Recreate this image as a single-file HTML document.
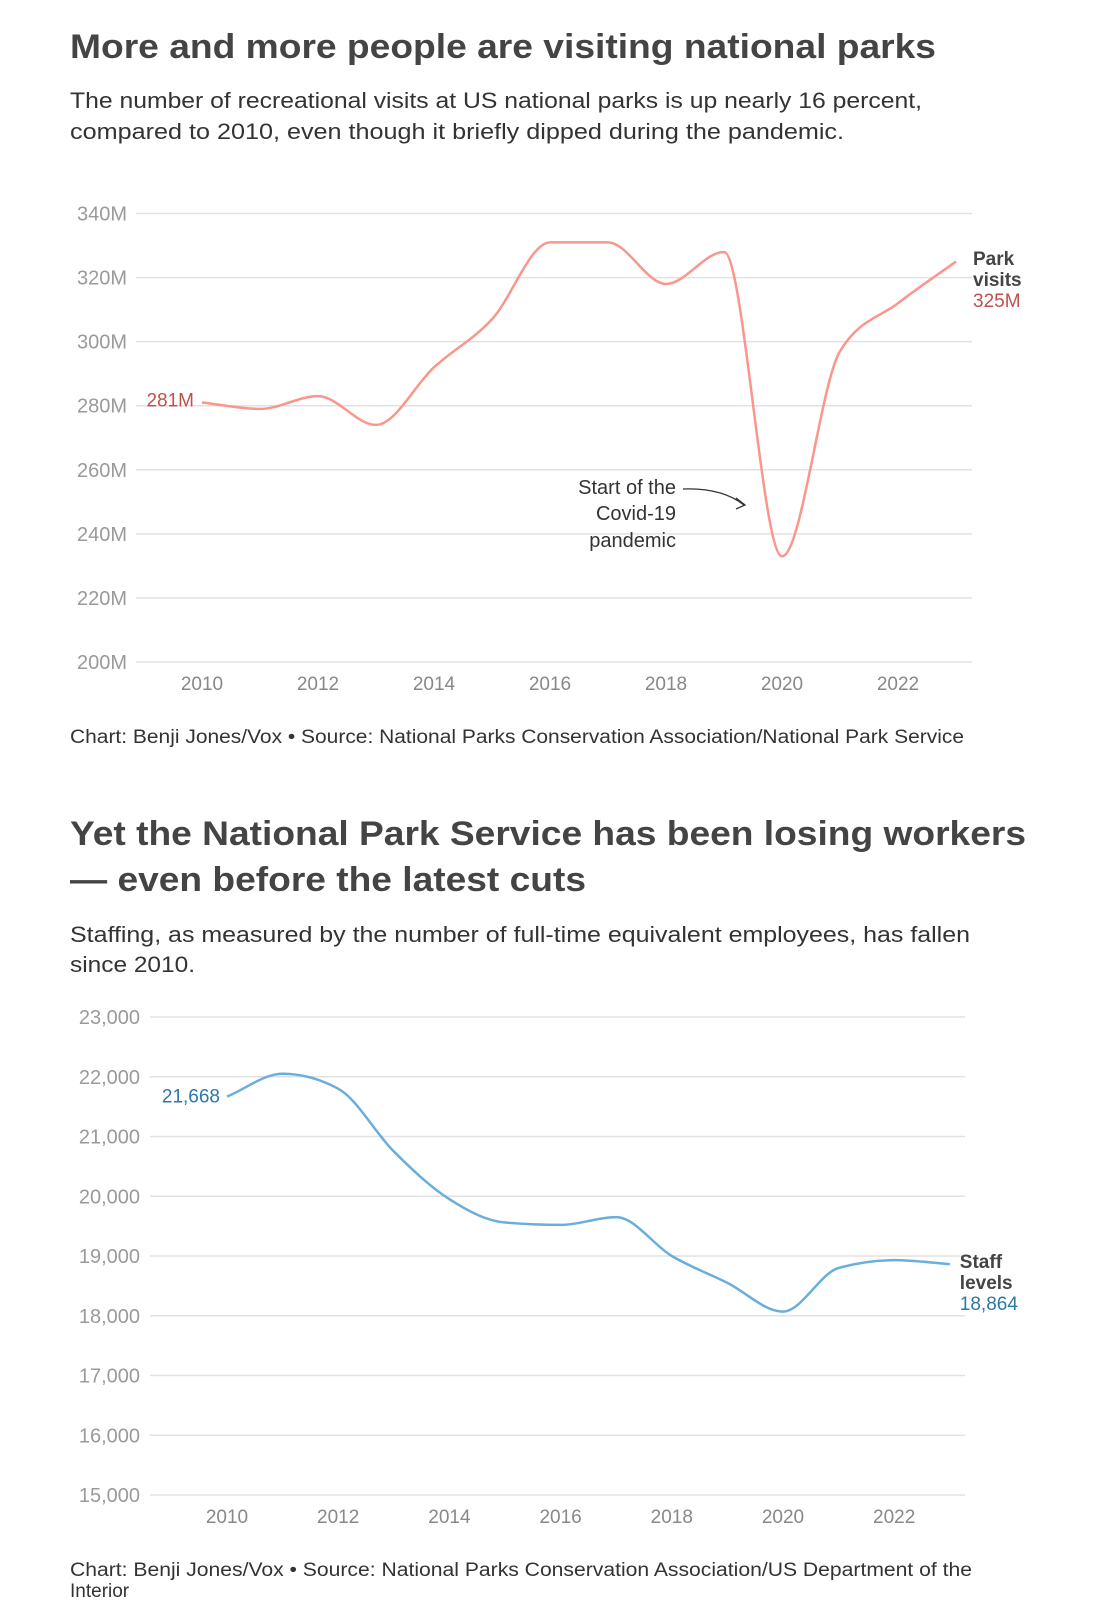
<!DOCTYPE html>
<html><head><meta charset="utf-8"><style>
body{margin:0;background:#fff;}
svg{display:block;font-family:"Liberation Sans",sans-serif;}
</style></head><body>
<svg id="root" width="1108" height="1612" viewBox="0 0 1108 1612">
<text x="70" y="58" font-size="34" font-weight="bold" fill="#444" textLength="866" lengthAdjust="spacingAndGlyphs">More and more people are visiting national parks</text>
<text x="70" y="108" font-size="22" fill="#333" textLength="852" lengthAdjust="spacingAndGlyphs">The number of recreational visits at US national parks is up nearly 16 percent,</text>
<text x="70" y="139" font-size="22" fill="#333" textLength="774" lengthAdjust="spacingAndGlyphs">compared to 2010, even though it briefly dipped during the pandemic.</text>
<g id="c1"></g>
<text x="70" y="743" font-size="19" fill="#333" textLength="894" lengthAdjust="spacingAndGlyphs">Chart: Benji Jones/Vox • Source: National Parks Conservation Association/National Park Service</text>

<text x="70" y="845" font-size="34" font-weight="bold" fill="#444" textLength="956" lengthAdjust="spacingAndGlyphs">Yet the National Park Service has been losing workers</text>
<text x="70" y="891" font-size="34" font-weight="bold" fill="#444" textLength="516" lengthAdjust="spacingAndGlyphs">— even before the latest cuts</text>
<text x="70" y="942" font-size="22" fill="#333" textLength="900" lengthAdjust="spacingAndGlyphs">Staffing, as measured by the number of full-time equivalent employees, has fallen</text>
<text x="70" y="972" font-size="22" fill="#333" textLength="125" lengthAdjust="spacingAndGlyphs">since 2010.</text>
<g id="c2"></g>
<text x="70" y="1576" font-size="19" fill="#333" textLength="902" lengthAdjust="spacingAndGlyphs">Chart: Benji Jones/Vox • Source: National Parks Conservation Association/US Department of the</text>
<text x="70" y="1597" font-size="19" fill="#333">Interior</text>
</svg>
<script>
const years = [2010,2011,2012,2013,2014,2015,2016,2017,2018,2019,2020,2021,2022,2023];
const visits = [281,279,283,274,292,307,331,331,318,328,233,297,312,325];
const visitTicks = [200,220,240,260,280,300,320,340];
const staff = [21668,22050,21800,20750,19950,19560,19520,19650,19000,18550,18070,18800,18930,18864];
const staffTicks = [15000,16000,17000,18000,19000,20000,21000,22000,23000];
const yearTicks = [2010,2012,2014,2016,2018,2020,2022];
const NS='http://www.w3.org/2000/svg';
function mk(parent,tag,attrs,txt){const e=document.createElementNS(NS,tag);for(const k in attrs)e.setAttribute(k,attrs[k]);if(txt!==undefined)e.textContent=txt;parent.appendChild(e);return e;}
function monotone(pts){
  const n=pts.length,dx=[],m=[],t=[];
  for(let i=0;i<n-1;i++){dx.push(pts[i+1][0]-pts[i][0]);m.push((pts[i+1][1]-pts[i][1])/dx[i]);}
  t[0]=m[0];t[n-1]=m[n-2];
  for(let i=1;i<n-1;i++){
    if(m[i-1]*m[i]<=0)t[i]=0;
    else{const h0=dx[i-1],h1=dx[i],p=(m[i-1]*h1+m[i]*h0)/(h0+h1);
      t[i]=(Math.sign(m[i-1])+Math.sign(m[i]))*Math.min(Math.abs(m[i-1]),Math.abs(m[i]),0.5*Math.abs(p));}
  }
  let d='M'+pts[0][0]+','+pts[0][1];
  for(let i=0;i<n-1;i++){const h=dx[i]/3;
    d+=' C'+(pts[i][0]+h)+','+(pts[i][1]+t[i]*h)+' '+(pts[i+1][0]-h)+','+(pts[i+1][1]-t[i+1]*h)+' '+pts[i+1][0]+','+pts[i+1][1];}
  return d;
}
function chart(g,cfg){
  const x=v=>cfg.x0+(v-2010)*cfg.xs;
  const y=v=>cfg.y0+(v-cfg.vmin)/(cfg.vmax-cfg.vmin)*(cfg.y1-cfg.y0);
  cfg.ticks.forEach(v=>{
    const l=mk(g,'line',{x1:cfg.gx0,x2:cfg.gx1,y1:y(v),y2:y(v),stroke:'#e2e2e2','stroke-width':1.5});
    
    
    const t=mk(g,'text',{x:cfg.lx,y:y(v)+7,'text-anchor':'end','font-size':20,fill:'#9a9a9a'},cfg.fmt(v));
    
    
  });
  yearTicks.forEach(v=>{
    const t=mk(g,'text',{x:x(v),y:cfg.xly,'text-anchor':'middle','font-size':19,fill:'#888'},String(v));
    
    
  });
  const pts=years.map((yr,i)=>[x(yr),y(cfg.vals[i])]);
  const p=mk(g,'path',{d:monotone(pts),fill:'none',stroke:cfg.color,'stroke-width':2.5});
  
  
  return {x,y};
}
const g1=document.getElementById('c1');
const a1=chart(g1,{x0:202,xs:58,y0:662,y1:213.5,vmin:200,vmax:340,gx0:136,gx1:972,lx:127,xly:690,ticks:visitTicks,fmt:v=>v+'M',vals:visits,color:'#fa968c'});
let t;
t=mk(g1,'text',{x:194,y:a1.y(visits[0])+4,'text-anchor':'end','font-size':19,fill:'#c0504d'},visits[0]+'M');


const lx1=a1.x(2023)+17;
t=mk(g1,'text',{x:lx1,y:265,'font-size':19,'font-weight':'bold',fill:'#444'},'Park');


t=mk(g1,'text',{x:lx1,y:286,'font-size':19,'font-weight':'bold',fill:'#444'},'visits');


t=mk(g1,'text',{x:lx1,y:307,'font-size':19,fill:'#c0504d'},visits[13]+'M');


[['Start of the',487],['Covid-19',513],['pandemic',540]].forEach(([s,yy])=>{
  t=mk(g1,'text',{x:676,y:yy+7,'text-anchor':'end','font-size':20,fill:'#333'},s);
  
  
});
t=mk(g1,'path',{d:'M683,489 C710,488 730,494 744,505 M736,498 L745,505 L736,509',fill:'none',stroke:'#333','stroke-width':1.3});



const g2=document.getElementById('c2');
const a2=chart(g2,{x0:227,xs:55.6,y0:1495,y1:1017,vmin:15000,vmax:23000,gx0:150,gx1:965,lx:140,xly:1523,ticks:staffTicks,fmt:v=>v.toLocaleString('en-US'),vals:staff,color:'#6aaedb'});
t=mk(g2,'text',{x:220,y:a2.y(staff[0])+6,'text-anchor':'end','font-size':19,fill:'#2e78a8'},staff[0].toLocaleString('en-US'));


const lx2=a2.x(2023)+10;
t=mk(g2,'text',{x:lx2,y:1268,'font-size':19,'font-weight':'bold',fill:'#444'},'Staff');


t=mk(g2,'text',{x:lx2,y:1289,'font-size':19,'font-weight':'bold',fill:'#444'},'levels');


t=mk(g2,'text',{x:lx2,y:1310,'font-size':19,fill:'#2e78a8'},staff[13].toLocaleString('en-US'));


</script>
</body></html>
